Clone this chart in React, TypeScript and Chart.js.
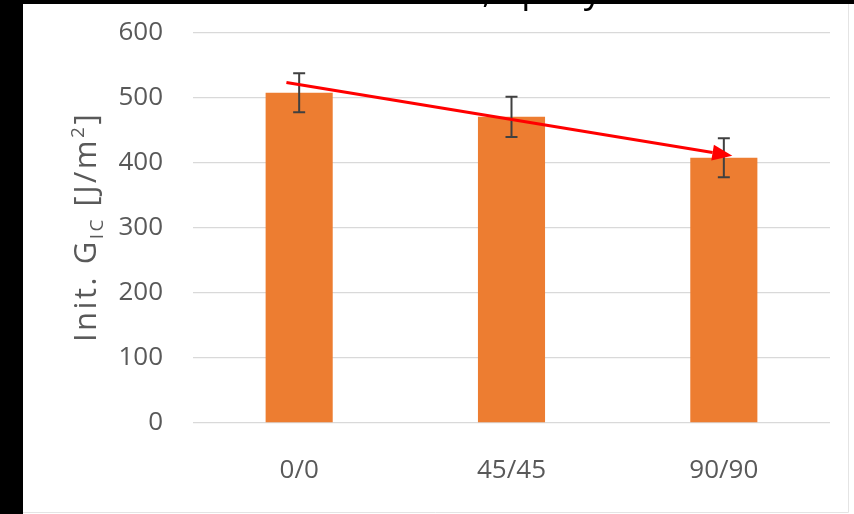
import React, { useEffect, useRef } from "react";
import { Chart, registerables } from "chart.js";

Chart.register(...registerables);

// Fracture toughness at crack initiation per layup
const categories = ["0/0", "45/45", "90/90"];
const gicValues = [508, 471, 408];
const gicErrors = [30, 31, 30];
const yTicks = [0, 100, 200, 300, 400, 500, 600];

// Trend arrow, in data units (category index, value)
const trendFrom = { index: -0.06, value: 524 };
const trendTo = { index: 2.04, value: 411 };

const chartTitle = "Mode I, epoxy";

const FONT = "'Open Sans', 'Noto Sans', sans-serif";
const TEXT_GREY = "#595959";

const backgroundPlugin = {
  id: "panelBackground",
  beforeDraw(chart: any) {
    const { ctx, width, height } = chart;
    ctx.save();
    ctx.fillStyle = "#ffffff";
    ctx.fillRect(0, 0, width, height);
    ctx.fillStyle = "#000000";
    ctx.fillRect(0, 0, 23, height);
    ctx.fillRect(0, 0, width, 4);
    ctx.strokeStyle = "#e4e4e4";
    ctx.lineWidth = 1;
    ctx.beginPath();
    ctx.moveTo(848.5, 4);
    ctx.lineTo(848.5, 512.5);
    ctx.lineTo(23, 512.5);
    ctx.stroke();
    ctx.restore();
  },
};

const titlePlugin = {
  id: "clippedTitle",
  afterDraw(chart: any) {
    const { ctx } = chart;
    ctx.save();
    ctx.font = `36px ${FONT}`;
    ctx.fillStyle = "#000000";
    ctx.textBaseline = "alphabetic";
    ctx.textAlign = "left";
    const before = chartTitle.split(",")[0];
    const commaX = 487;
    const x = commaX - ctx.measureText(before).width - ctx.measureText(",").width / 2;
    ctx.fillText(chartTitle, x, 1.5);
    ctx.restore();
  },
};

const errorBarPlugin = {
  id: "errorBars",
  afterDatasetsDraw(chart: any) {
    const { ctx } = chart;
    const meta = chart.getDatasetMeta(0);
    const y = chart.scales.y;
    ctx.save();
    ctx.strokeStyle = "#404040";
    ctx.lineWidth = 2;
    const cap = 6;
    meta.data.forEach((bar: any, i: number) => {
      const top = y.getPixelForValue(gicValues[i] + gicErrors[i]);
      const bot = y.getPixelForValue(gicValues[i] - gicErrors[i]);
      ctx.beginPath();
      ctx.moveTo(bar.x, top);
      ctx.lineTo(bar.x, bot);
      ctx.moveTo(bar.x - cap, top);
      ctx.lineTo(bar.x + cap, top);
      ctx.moveTo(bar.x - cap, bot);
      ctx.lineTo(bar.x + cap, bot);
      ctx.stroke();
    });
    ctx.restore();
  },
};

const arrowPlugin = {
  id: "trendArrow",
  afterDatasetsDraw(chart: any) {
    const { ctx } = chart;
    const xs = chart.scales.x;
    const ys = chart.scales.y;
    const x1 = xs.getPixelForValue(trendFrom.index);
    const y1 = ys.getPixelForValue(trendFrom.value);
    const x2 = xs.getPixelForValue(trendTo.index);
    const y2 = ys.getPixelForValue(trendTo.value);
    const ang = Math.atan2(y2 - y1, x2 - x1);
    const head = 20;
    const half = 8;
    const bx = x2 - head * Math.cos(ang);
    const by = y2 - head * Math.sin(ang);
    ctx.save();
    ctx.strokeStyle = "#ff0000";
    ctx.fillStyle = "#ff0000";
    ctx.lineWidth = 3;
    ctx.beginPath();
    ctx.moveTo(x1, y1);
    ctx.lineTo(bx, by);
    ctx.stroke();
    ctx.beginPath();
    ctx.moveTo(x2, y2);
    ctx.lineTo(bx + half * Math.sin(ang), by - half * Math.cos(ang));
    ctx.lineTo(bx - half * Math.sin(ang), by + half * Math.cos(ang));
    ctx.closePath();
    ctx.fill();
    ctx.restore();
  },
};

// Rotated y-axis title with subscript "IC" and superscript "2"
const axisTitlePlugin = {
  id: "richAxisTitle",
  afterDraw(chart: any) {
    const { ctx } = chart;
    const size = 31;
    const small = Math.round(size * 0.62);
    const parts = [
      { text: "Init. G", size, shift: 0 },
      { text: "IC", size: small, shift: size * 0.22 },
      { text: " [J/m", size, shift: 0 },
      { text: "2", size: small, shift: -size * 0.38 },
      { text: "]", size, shift: 0 },
    ];
    ctx.save();
    (ctx as any).letterSpacing = "2.5px";
    let total = 0;
    const widths = parts.map((p) => {
      ctx.font = `${p.size}px ${FONT}`;
      const w = ctx.measureText(p.text).width;
      total += w;
      return w;
    });
    const cx = 96;
    const cy = 227;
    ctx.translate(cx, cy);
    ctx.rotate(-Math.PI / 2);
    ctx.fillStyle = TEXT_GREY;
    ctx.textBaseline = "alphabetic";
    ctx.textAlign = "left";
    let u = -total / 2;
    parts.forEach((p, i) => {
      ctx.font = `${p.size}px ${FONT}`;
      ctx.fillText(p.text, u, p.shift);
      u += widths[i];
    });
    ctx.restore();
  },
};

export default function App() {
  const canvasRef = useRef<HTMLCanvasElement | null>(null);

  useEffect(() => {
    document.body.style.margin = "0";
    document.body.style.background = "#fff";
    const canvas = canvasRef.current;
    if (!canvas) return;
    const chart = new Chart(canvas, {
      type: "bar",
      data: {
        labels: categories,
        datasets: [
          {
            data: gicValues,
            backgroundColor: "#ED7D31",
            barPercentage: 0.316,
            categoryPercentage: 1,
          },
        ],
      },
      options: {
        responsive: false,
        animation: false,
        devicePixelRatio: 1,
        layout: { padding: { top: 33, right: 24, left: 0, bottom: 0 } },
        plugins: {
          legend: { display: false },
          tooltip: { enabled: false },
          title: { display: false },
        },
        scales: {
          x: {
            grid: { display: false },
            border: { display: false },
            ticks: {
              color: TEXT_GREY,
              font: { family: FONT, size: 26 },
              padding: 24,
            },
            afterFit: (s: any) => {
              s.height = 91;
            },
          },
          y: {
            min: 0,
            max: 600,
            afterBuildTicks: (s: any) => {
              s.ticks = yTicks.map((v) => ({ value: v }));
            },
            ticks: {
              color: TEXT_GREY,
              font: { family: FONT, size: 26 },
              padding: 30,
            },
            grid: { color: "#d9d9d9", lineWidth: 1.3, drawTicks: false },
            border: { display: false },
            afterFit: (s: any) => {
              s.width = 193;
              s.paddingTop = 0;
              s.paddingBottom = 0;
            },
          },
        },
      },
      plugins: [backgroundPlugin, errorBarPlugin, arrowPlugin, axisTitlePlugin, titlePlugin],
    });
    return () => chart.destroy();
  }, []);

  return (
    <div style={{ width: 854, height: 514 }}>
      <canvas ref={canvasRef} width={854} height={514} style={{ display: "block" }} />
    </div>
  );
}
